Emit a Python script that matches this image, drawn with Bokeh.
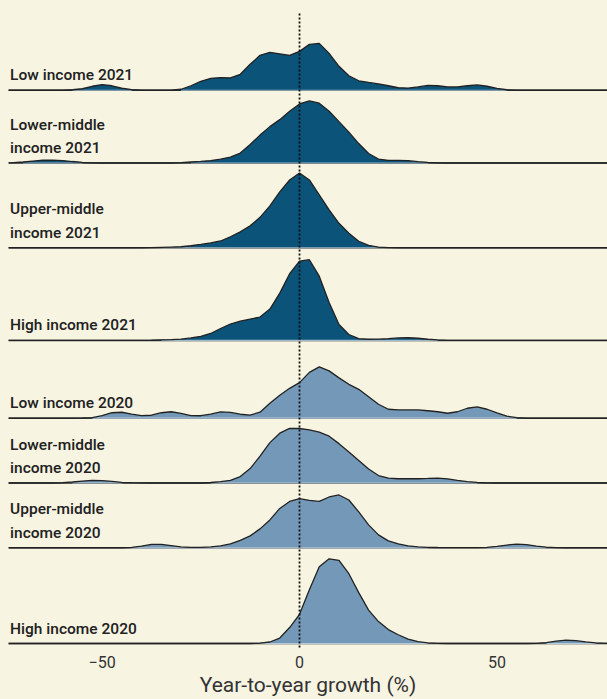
import math
from bokeh.plotting import figure
from bokeh.models import Range1d, FixedTicker, Span
from bokeh.core.properties import value
from bokeh.embed import file_html
from bokeh.resources import INLINE

# Year-to-year growth (%) sampling grid for the density curves
growth = [-75, -72.5, -70, -67.5, -65, -62.5, -60, -57.5, -55, -52.5,
          -50, -47.5, -45, -42.5, -40, -37.5, -35, -32.5, -30, -27.5,
          -25, -22.5, -20, -17.5, -15, -12.5, -10, -7.5, -5, -2.5,
          0, 2.5, 5, 7.5, 10, 12.5, 15, 17.5, 20, 22.5,
          25, 27.5, 30, 32.5, 35, 37.5, 40, 42.5, 45, 47.5,
          50, 52.5, 55, 57.5, 60, 62.5, 65, 67.5, 70, 72.5,
          75, 77.5, 80]

labels = ["Low income 2021", "Lower-middle\nincome 2021", "Upper-middle\nincome 2021",
          "High income 2021", "Low income 2020", "Lower-middle\nincome 2020",
          "Upper-middle\nincome 2020", "High income 2020"]
years = [2021, 2021, 2021, 2021, 2020, 2020, 2020, 2020]

# density heights
low_2021 = [0, 0, 0, 0, 0, 0, 0, 0.5, 1.5, 4,
            5.7, 4.5, 2, 0.7, 0.2, 0, 0, 0.2, 1, 4.5,
            9, 12, 12.7, 12.3, 16, 26, 35, 38, 36.5, 35,
            39, 46, 47, 37, 24, 14.5, 9.5, 7.8, 6.3, 4.5,
            2.5, 2.2, 3.3, 4.8, 4.5, 3.3, 3.3, 4.5, 5.3, 4,
            1.8, 0.5, 0, 0, 0, 0, 0, 0, 0, 0,
            0, 0, 0]
lower_middle_2021 = [0, 0.3, 1, 2, 2.8, 3, 2.5, 1.5, 0.7, 0.2,
                     0, 0, 0, 0, 0, 0, 0, 0, 0.3, 1,
                     1.7, 2.5, 3.8, 6, 10, 18.5, 28, 36.5, 43.5, 52,
                     59.3, 62.3, 60, 52, 41.5, 31, 19.5, 9.5, 4, 2.7,
                     2.7, 2.3, 1.3, 0.6, 0.2, 0, 0, 0, 0, 0,
                     0, 0, 0, 0, 0, 0, 0, 0, 0, 0,
                     0, 0, 0]
upper_middle_2021 = [0, 0, 0, 0, 0, 0, 0, 0, 0, 0,
                     0, 0, 0, 0, 0, 0.1, 0.4, 0.7, 1, 2,
                     3.3, 4.8, 6.8, 11, 16, 22, 30.5, 42, 56, 68,
                     75, 68, 53, 38, 24.5, 14.5, 6.5, 2.3, 0.7, 0.2,
                     0, 0, 0, 0, 0, 0, 0, 0, 0, 0,
                     0, 0, 0, 0, 0, 0, 0, 0, 0, 0,
                     0, 0, 0]
high_2021 = [0, 0, 0, 0, 0, 0, 0, 0, 0, 0,
             0, 0, 0, 0, 0.1, 0.3, 0.6, 0.9, 1.3, 2.5,
             4.2, 7, 12, 16.5, 19.3, 21.5, 23.5, 31.5, 47.5, 67,
             79.5, 81, 64.5, 38, 16, 6, 1.8, 1.2, 1.3, 1.8,
             2.5, 2.7, 2.2, 1.2, 0.5, 0.1, 0, 0, 0, 0,
             0, 0, 0, 0, 0, 0, 0, 0, 0, 0,
             0, 0, 0]
low_2020 = [0, 0, 0, 0, 0, 0, 0, 0, 0.2, 0.5,
            2.5, 5.5, 6, 4.2, 2.6, 3, 5.5, 6.5, 4.8, 2.6,
            2.5, 4, 6.3, 5.8, 4, 3.2, 6, 15, 23, 30,
            35.7, 46, 51.5, 47.5, 40.5, 34, 29, 21.5, 14, 9,
            8.3, 8.3, 8.3, 7.5, 6.5, 5, 6.5, 10, 11.3, 9,
            5.3, 2, 0.5, 0, 0, 0, 0, 0, 0, 0,
            0, 0, 0]
lower_middle_2020 = [0, 0, 0, 0, 0, 0, 0.3, 1, 2, 2.7,
                     2.5, 1.6, 0.7, 0.3, 0.1, 0, 0, 0, 0, 0,
                     0, 0.5, 1.3, 2.7, 6.5, 14.5, 27, 40.5, 50, 54.8,
                     54.7, 53.3, 51, 47, 39.5, 31, 22.5, 14, 7.5, 5,
                     4.3, 4.3, 4.3, 4.6, 5, 4.2, 2.6, 1.3, 0.6, 0.2,
                     0, 0, 0, 0, 0, 0, 0, 0, 0, 0,
                     0, 0, 0]
upper_middle_2020 = [0, 0, 0, 0, 0, 0, 0, 0, 0, 0,
                     0, 0, 0, 0.5, 1.8, 3.4, 3.5, 2.2, 0.9, 0.4,
                     0.5, 0.9, 2, 4, 7.5, 12, 19, 28, 39.5, 46.5,
                     49.3, 47.5, 46.5, 51, 53, 48, 36, 23, 13, 7,
                     4, 2, 1, 0.5, 0.3, 0.2, 0.1, 0.1, 0.1, 0.5,
                     1.5, 2.8, 3.7, 3.2, 1.8, 0.6, 0.1, 0, 0, 0,
                     0, 0, 0]
high_2020 = [0, 0, 0, 0, 0, 0, 0, 0, 0, 0,
             0, 0, 0, 0, 0, 0, 0, 0, 0, 0,
             0, 0, 0, 0, 0, 0, 0.4, 1.5, 5.5, 16,
             29.3, 54, 77, 85, 83.5, 70, 51, 33.5, 22, 14,
             8.8, 4.5, 1.8, 0.6, 0.2, 0, 0, 0, 0, 0,
             0, 0, 0, 0, 0.2, 0.9, 2.3, 3.3, 2.8, 1.6,
             0.6, 0.2, 0]

series = [low_2021, lower_middle_2021, upper_middle_2021, high_2021,
          low_2020, lower_middle_2020, upper_middle_2020, high_2020]
# vertical offset of each ridge's baseline
ridge_base = [560, 487, 402, 309, 231, 166, 101, 5]

ticks = [-50, 0, 50]
tick_labels = {-50: "\u221250", 0: "0", 50: "50"}

BG = "#f7f4e2"
colors = {2021: "#0b5379", 2020: "#7498b7"}
rim = {2021: "#9db8c9", 2020: "#b4c9da"}
INK = "#222222"

p = figure(width=607, height=699, output_backend="svg", toolbar_location=None,
           x_range=Range1d(-73.7, 78.0), y_range=Range1d(0, 642),
           y_axis_location=None,
           min_border_left=8, min_border_right=0, min_border_top=8, min_border_bottom=49,
           background_fill_color=BG, border_fill_color=BG, outline_line_color=None)
p.xgrid.visible = False
p.ygrid.visible = False

for vals, base, yr in zip(series, ridge_base, years):
    assert len(vals) == len(growth)
    n = len(vals)
    top = [base + v for v in vals]
    p.add_layout(Span(location=base, dimension="width", line_color="#2a2a2a",
                      line_width=1.5, level="underlay"))
    p.varea(x=growth, y1=base, y2=top, fill_color=colors[yr], fill_alpha=1)
    # lighter rule along the base where the area is filled
    under = [base if (vals[i] > 0.3 and vals[min(i + 1, n - 1)] > 0.3) or
             (vals[i] > 0.3 and vals[max(i - 1, 0)] > 0.3) else math.nan
             for i in range(n)]
    p.line(growth, under, line_color=rim[yr], line_width=1.2)
    p.line(growth, top, line_color=INK, line_width=1.3)

p.segment(x0=[0], y0=[1], x1=[0], y1=[637], line_color="#111111", line_width=1.8,
          line_dash="2 2")

p.text(x=[-73.3] * len(labels), y=ridge_base, text=labels, y_offset=-6,
       text_align="left", text_baseline="bottom",
       text_font=value("'Roboto Medium', Roboto"),
       text_font_size="15.5px", text_font_style="normal", text_color=INK,
       text_line_height=1.3)

ax = p.xaxis[0]
ax.ticker = FixedTicker(ticks=ticks)
ax.major_label_overrides = tick_labels
ax.axis_line_color = None
ax.major_tick_line_color = None
ax.minor_tick_line_color = None
ax.major_tick_out = 0
ax.major_tick_in = 0
ax.major_label_standoff = 7
ax.major_label_text_font = "Roboto"
ax.major_label_text_font_size = "16px"
ax.major_label_text_line_height = 1.0
ax.major_label_text_color = "#333333"
ax.axis_label = "Year-to-year growth (%)"
ax.axis_label_standoff = 2
ax.axis_label_text_font = "Roboto"
ax.axis_label_text_font_size = "21px"
ax.axis_label_text_line_height = 1.0
ax.axis_label_text_font_style = "normal"
ax.axis_label_text_color = "#333333"

html = file_html(p, INLINE)
html = html.replace("<head>", "<head><style>body{background:%s}</style>" % BG, 1)
open("out.html", "w").write(html)
